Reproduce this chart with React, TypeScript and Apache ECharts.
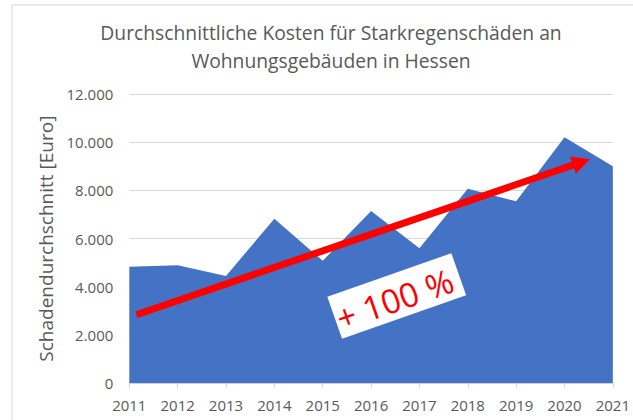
import React, { useEffect, useRef } from "react";
import * as echarts from "echarts";

const years = ["2011", "2012", "2013", "2014", "2015", "2016", "2017", "2018", "2019", "2020", "2021"];
const avgCost = [4830, 4900, 4450, 6830, 5080, 7150, 5600, 8070, 7550, 10210, 9000];
const titleLines = ["Durchschnittliche Kosten für Starkregenschäden an", "Wohnungsgebäuden in Hessen"];
const yAxisName = "Schadendurchschnitt [Euro]";
const badgeText = "+ 100 %";

const FONT = "'Open Sans', 'Noto Sans', sans-serif";
const GREY = "#595959";

function fmt(v: number): string {
  return String(v).replace(/\B(?=(\d{3})+(?!\d))/g, ".");
}

export default function App() {
  const ref = useRef<HTMLDivElement>(null);
  useEffect(() => {
    document.body.style.margin = "0";
    if (!ref.current) return;
    const chart = echarts.init(ref.current, null, { renderer: "svg" });
    // arrow geometry (annotation)
    const sx = 136.4, sy = 314.7, tx = 590, ty = 159.3;
    const dx = tx - sx, dy = ty - sy;
    const len = Math.sqrt(dx * dx + dy * dy);
    const ux = dx / len, uy = dy / len;
    const nx = -uy, ny = ux;
    const headLen = 18, headHalf = 9;
    const bx = tx - headLen * ux, by = ty - headLen * uy;
    chart.setOption({
      animation: false,
      backgroundColor: "#ffffff",
      grid: { left: 129.3, right: 17.3, top: 94, bottom: 36.7, containLabel: false },
      xAxis: {
        type: "category",
        data: years,
        boundaryGap: false,
        axisLine: { show: true, lineStyle: { color: "#D9D9D9", width: 1 } },
        axisTick: { show: true, length: 5, lineStyle: { color: "#D9D9D9" } },
        axisLabel: { fontFamily: FONT, fontSize: 15, color: GREY, margin: 14 },
        splitLine: { show: false },
      },
      yAxis: {
        type: "value",
        min: 0,
        max: 12000,
        interval: 2000,
        name: yAxisName,
        nameLocation: "middle",
        nameGap: 72,
        nameTextStyle: { fontFamily: FONT, fontSize: 19, color: GREY },
        axisLine: { show: false },
        axisTick: { show: false },
        axisLabel: { fontFamily: FONT, fontSize: 15, color: GREY, margin: 16, formatter: (v: number) => fmt(v) },
        splitLine: { lineStyle: { color: "#D9D9D9", width: 1 } },
      },
      series: [
        {
          type: "line",
          data: avgCost,
          showSymbol: false,
          lineStyle: { width: 0, color: "#4472C4" },
          areaStyle: { color: "#4472C4", opacity: 1 },
          silent: true,
        },
      ],
      graphic: [
        {
          type: "rect",
          shape: { x: 12, y: 5, width: 700, height: 500 },
          style: { fill: "none", stroke: "#E3E3E3", lineWidth: 1.5 },
          silent: true,
        },
        {
          type: "text",
          x: 331,
          y: 32,
          z: 100,
          style: {
            text: titleLines[0],
            fontFamily: FONT,
            fontSize: 19.3,
            fill: GREY,
            align: "center",
            verticalAlign: "middle",
          },
        },
        {
          type: "text",
          x: 331,
          y: 60.5,
          z: 100,
          style: {
            text: titleLines[1],
            fontFamily: FONT,
            fontSize: 19.3,
            fill: GREY,
            align: "center",
            verticalAlign: "middle",
          },
        },
        {
          type: "line",
          shape: { x1: sx, y1: sy, x2: bx + ux * 1, y2: by + uy * 1 },
          style: { stroke: "#FF0000", lineWidth: 7 },
          z: 100,
        },
        {
          type: "polygon",
          shape: {
            points: [
              [tx, ty],
              [bx + headHalf * nx, by + headHalf * ny],
              [bx - headHalf * nx, by - headHalf * ny],
            ],
          },
          style: { fill: "#FF0000" },
          z: 100,
        },
        {
          type: "rect",
          x: 396.7,
          y: 296,
          rotation: (19.3 * Math.PI) / 180,
          shape: { x: -65.7, y: -22.3, width: 131.4, height: 44.6 },
          style: { fill: "#ffffff" },
          z: 101,
        },
        {
          type: "text",
          x: 396.7,
          y: 296,
          rotation: (19.3 * Math.PI) / 180,
          z: 102,
          style: {
            text: badgeText,
            x: -3,
            y: 2,
            fontFamily: FONT,
            fontSize: 33.5,
            fill: "#FF0000",
            align: "center",
            verticalAlign: "middle",
          },
        },
      ],
    });
    return () => chart.dispose();
  }, []);
  return <div ref={ref} style={{ width: 633, height: 420 }} />;
}
